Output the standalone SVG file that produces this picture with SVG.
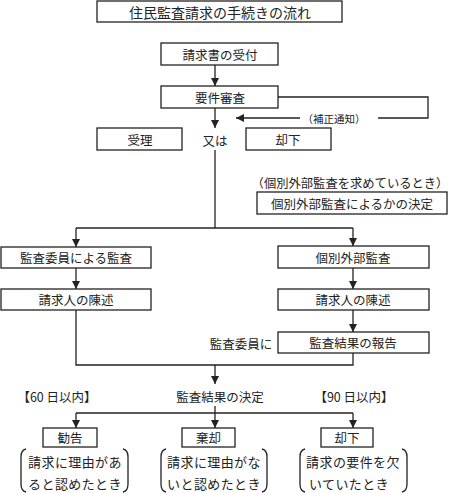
<svg xmlns="http://www.w3.org/2000/svg" width="450" height="493" viewBox="0 0 450 493">
<style>
.b{fill:#fff;stroke:#222;stroke-width:1.3}
.t{font-family:"Noto Sans CJK JP","Noto Sans",sans-serif;font-size:12.5px;fill:#222;text-anchor:middle;dominant-baseline:central}
.s{font-size:10.5px}
.l{fill:none;stroke:#222;stroke-width:1.3}
</style>
<defs>
<marker id="ah" viewBox="0 0 8 8" refX="8" refY="4" markerWidth="8" markerHeight="8" markerUnits="userSpaceOnUse" orient="auto">
<path d="M0,0 L8,4 L0,8 Z" fill="#222"/>
</marker>
</defs>
<rect width="450" height="493" fill="#fff"/>
<g id="connectors">
<line class="l" x1="215" y1="65" x2="215" y2="86" marker-end="url(#ah)"/>
<line class="l" x1="215" y1="108" x2="215" y2="128" marker-end="url(#ah)"/>
<polyline class="l" points="278,97 428,97 428,118 378,118"/>
<line class="l" x1="300" y1="118" x2="236" y2="118" marker-end="url(#ah)"/>
<polyline class="l" points="215,150 215,228"/>
<line class="l" x1="76" y1="228" x2="353" y2="228"/>
<polyline class="l" points="76,228 76,247" marker-end="url(#ah)"/>
<polyline class="l" points="353,228 353,246" marker-end="url(#ah)"/>
<line class="l" x1="76" y1="268" x2="76" y2="289" marker-end="url(#ah)"/>
<line class="l" x1="353" y1="268" x2="353" y2="289" marker-end="url(#ah)"/>
<line class="l" x1="353" y1="310" x2="353" y2="332" marker-end="url(#ah)"/>
<polyline class="l" points="76,310 76,365 353,365 353,353"/>
<line class="l" x1="215" y1="365" x2="215" y2="384" marker-end="url(#ah)"/>
<line class="l" x1="215" y1="406" x2="215" y2="413"/>
<line class="l" x1="76" y1="413" x2="353" y2="413"/>
<polyline class="l" points="76,413 76,428" marker-end="url(#ah)"/>
<polyline class="l" points="215,413 215,428" marker-end="url(#ah)"/>
<polyline class="l" points="353,413 353,428" marker-end="url(#ah)"/>
</g>
<g id="title"><rect class="b" x="97" y="1" width="245" height="21"/><text class="t" x="220" y="12" style="font-size:14px">住民監査請求の手続きの流れ</text></g>
<g id="uketsuke"><rect class="b" x="161" y="43" width="117" height="22"/><text class="t" x="220" y="54">請求書の受付</text></g>
<g id="youken"><rect class="b" x="161" y="86" width="117" height="22"/><text class="t" x="220" y="97">要件審査</text></g>
<g id="hosei"><text class="t s" x="334" y="118">（補正通知）</text></g>
<g id="juri"><rect class="b" x="97" y="128" width="85" height="22"/><text class="t" x="140" y="139">受理</text></g>
<g id="mataha"><text class="t" x="215" y="140">又は</text></g>
<g id="kyakka1"><rect class="b" x="246" y="128" width="85" height="22"/><text class="t" x="288" y="139">却下</text></g>
<g id="kobetsu-note"><text class="t" x="350" y="183" style="font-size:12.3px">（個別外部監査を求めているとき）</text></g>
<g id="kobetsu-kettei"><rect class="b" x="257" y="192" width="190" height="22"/><text class="t" x="352" y="203">個別外部監査によるかの決定</text></g>
<g id="kansa-iin"><rect class="b" x="1" y="247" width="150" height="21"/><text class="t" x="76" y="257.5">監査委員による監査</text></g>
<g id="kobetsu"><rect class="b" x="278" y="246" width="151" height="22"/><text class="t" x="353" y="257">個別外部監査</text></g>
<g id="chinjutsu1"><rect class="b" x="1" y="289" width="150" height="21"/><text class="t" x="76" y="299.5">請求人の陳述</text></g>
<g id="chinjutsu2"><rect class="b" x="278" y="289" width="151" height="21"/><text class="t" x="353" y="299.5">請求人の陳述</text></g>
<g id="iinni"><text class="t" x="241" y="343">監査委員に</text></g>
<g id="houkoku"><rect class="b" x="278" y="332" width="151" height="21"/><text class="t" x="353" y="342.5">監査結果の報告</text></g>
<g id="kettei"><text class="t" x="220" y="396">監査結果の決定</text></g>
<g id="d60"><text class="t" x="57" y="396">【60 日以内】</text></g>
<g id="d90"><text class="t" x="354" y="396">【90 日以内】</text></g>
<g id="kankoku"><rect class="b" x="43" y="428" width="54" height="19"/><text class="t" x="70" y="437.5">勧告</text>
<path class="l" d="M26,449 Q21,450 21,457 L21,484 Q21,491 26,492"/><path class="l" d="M123,449 Q128,450 128,457 L128,484 Q128,491 123,492"/>
<text class="t" x="75" y="461" style="font-size:13px;letter-spacing:0.4px">請求に理由があ</text><text class="t" x="75" y="483" style="font-size:13px;letter-spacing:0.4px">ると認めたとき</text></g>
<g id="kikyaku"><rect class="b" x="182" y="428" width="53" height="19"/><text class="t" x="208.5" y="437.5">棄却</text>
<path class="l" d="M166,449 Q161,450 161,457 L161,484 Q161,491 166,492"/><path class="l" d="M262,449 Q267,450 267,457 L267,484 Q267,491 262,492"/>
<text class="t" x="214" y="461" style="font-size:13px;letter-spacing:0.4px">請求に理由がな</text><text class="t" x="214" y="483" style="font-size:13px;letter-spacing:0.4px">いと認めたとき</text></g>
<g id="kyakka2"><rect class="b" x="321" y="428" width="52" height="19"/><text class="t" x="347" y="437.5">却下</text>
<path class="l" d="M305,449 Q300,450 300,457 L300,484 Q300,491 305,492"/><path class="l" d="M402,449 Q407,450 407,457 L407,484 Q407,491 402,492"/>
<text class="t" x="353" y="461" style="font-size:13px;letter-spacing:0.4px">請求の要件を欠</text><text class="t" x="309" y="483" style="font-size:13px;letter-spacing:0.4px;text-anchor:start">いていたとき</text></g>
</svg>
